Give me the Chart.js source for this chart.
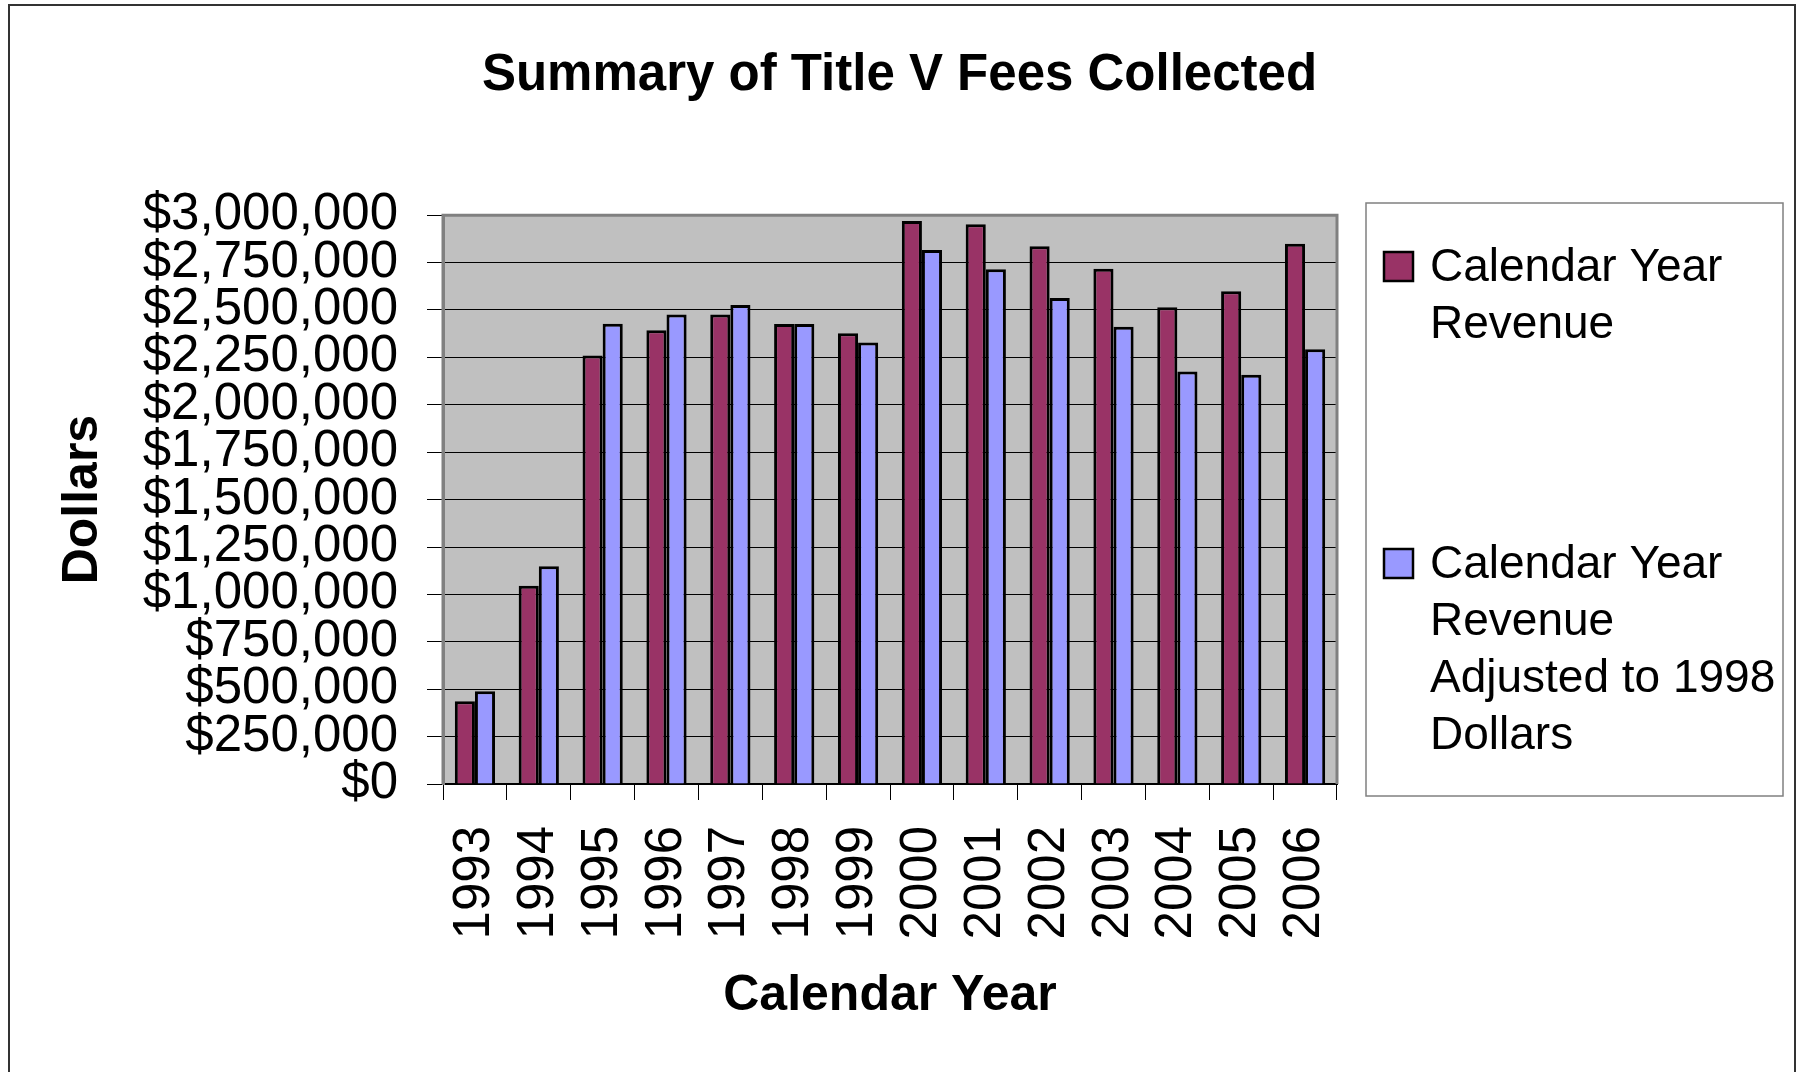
<!DOCTYPE html>
<html>
<head>
<meta charset="utf-8">
<title>Summary of Title V Fees Collected</title>
<script src="https://cdn.jsdelivr.net/npm/chart.js@4.4.1/dist/chart.umd.min.js"></script>
<style>
  html, body { margin: 0; padding: 0; background: #fff; }
  canvas { display: block; }
</style>
</head>
<body>
<canvas id="chart" width="1799" height="1072"></canvas>
<script>
const years = ["1993", "1994", "1995", "1996", "1997", "1998", "1999",
               "2000", "2001", "2002", "2003", "2004", "2005", "2006"];
const revenue = [437000, 1046000, 2260000, 2393000, 2476000, 2426000, 2378000,
                 2969000, 2952000, 2836000, 2717000, 2514000, 2599000, 2850000];
const adjusted = [489000, 1148000, 2428000, 2476000, 2526000, 2426000, 2328000,
                  2817000, 2715000, 2563000, 2412000, 2175000, 2158000, 2293000];
const legendLines = [
  ["Calendar Year", "Revenue"],
  ["Calendar Year", "Revenue", "Adjusted to 1998", "Dollars"]
];
const yMax = 3000000;
const yStep = 250000;

const FONT = '"Liberation Sans", Arial, Helvetica, sans-serif';
Chart.defaults.font.family = FONT;
Chart.defaults.color = "#000";

// white page, outer frame, grey plot area
const frame = {
  id: "frame",
  beforeDraw(chart) {
    const { ctx, chartArea: a } = chart;
    ctx.save();
    ctx.fillStyle = "#fff";
    ctx.fillRect(0, 0, chart.width, chart.height);
    ctx.strokeStyle = "#333";
    ctx.lineWidth = 2;
    ctx.strokeRect(9, 5, 1786, 1100);
    ctx.fillStyle = "#c0c0c0";
    ctx.fillRect(a.left, a.top, a.right - a.left, a.bottom - a.top);
    ctx.restore();
  },
  beforeDatasetsDraw(chart) {
    const { ctx, chartArea: a } = chart;
    ctx.save();
    ctx.strokeStyle = "#808080";
    ctx.lineWidth = 3;
    ctx.beginPath();
    ctx.moveTo(a.left, a.bottom);
    ctx.lineTo(a.left, a.top);
    ctx.lineTo(a.right, a.top);
    ctx.lineTo(a.right, a.bottom);
    ctx.stroke();
    ctx.restore();
  }
};

// legend box on the right, labels wrapped like the original
const sideLegend = {
  id: "sideLegend",
  afterDraw(chart) {
    const ctx = chart.ctx;
    const firstLine = [281, 578];
    ctx.save();
    ctx.strokeStyle = "#808080";
    ctx.lineWidth = 1.5;
    ctx.strokeRect(1366, 203, 417, 593);
    ctx.font = "46px " + FONT;
    ctx.textBaseline = "alphabetic";
    chart.data.datasets.forEach((ds, i) => {
      const y0 = firstLine[i];
      ctx.fillStyle = ds.backgroundColor;
      ctx.fillRect(1384, y0 - 29, 29, 29);
      ctx.strokeStyle = "#000";
      ctx.lineWidth = 2.5;
      ctx.strokeRect(1384, y0 - 29, 29, 29);
      ctx.fillStyle = "#000";
      legendLines[i].forEach((line, j) => ctx.fillText(line, 1430, y0 + j * 57));
    });
    ctx.restore();
  }
};

new Chart(document.getElementById("chart"), {
  type: "bar",
  data: {
    labels: years,
    datasets: [
      {
        label: legendLines[0].join(" "),
        data: revenue,
        backgroundColor: "#993366",
        borderColor: "#000",
        borderWidth: 3
      },
      {
        label: legendLines[1].join(" "),
        data: adjusted,
        backgroundColor: "#9999ff",
        borderColor: "#000",
        borderWidth: 3
      }
    ]
  },
  options: {
    responsive: false,
    animation: false,
    devicePixelRatio: 1,
    layout: { padding: 0 },
    datasets: {
      bar: { categoryPercentage: 0.63, barPercentage: 1.0 }
    },
    plugins: {
      legend: { display: false },
      tooltip: { enabled: false },
      title: {
        display: true,
        text: "Summary of Title V Fees Collected",
        color: "#000",
        font: { size: 51, weight: "bold" },
        padding: { top: 45, bottom: 109 }
      }
    },
    scales: {
      x: {
        grid: {
          display: true,
          drawOnChartArea: false,
          tickLength: 16,
          color: "#000",
          lineWidth: 1
        },
        border: { color: "#000", width: 2 },
        ticks: {
          autoSkip: false,
          minRotation: 90,
          maxRotation: 90,
          padding: 26,
          color: "#000",
          font: { size: 51 }
        },
        title: {
          display: true,
          text: "Calendar Year",
          color: "#000",
          font: { size: 50, weight: "bold" },
          padding: { top: 0, bottom: 46 }
        },
        afterFit(scale) { scale.height = 288; }
      },
      y: {
        min: 0,
        max: yMax,
        grid: {
          color: "#000",
          lineWidth: 1,
          tickLength: 16
        },
        border: { color: "#808080", width: 3 },
        ticks: {
          stepSize: yStep,
          autoSkip: false,
          padding: 29,
          color: "#000",
          font: { size: 51, lineHeight: 1 },
          callback: v => "$" + Number(v).toLocaleString("en-US")
        },
        title: {
          display: true,
          text: "Dollars",
          color: "#000",
          font: { size: 50, weight: "bold" },
          padding: { top: 53, bottom: 0 }
        },
        afterFit(scale) { scale.width = 443; }
      },
      side: {
        type: "linear",
        position: "right",
        grid: { display: false },
        border: { display: false },
        ticks: { display: false },
        afterFit(scale) { scale.width = 462; }
      }
    }
  },
  plugins: [frame, sideLegend]
});
</script>
</body>
</html>
